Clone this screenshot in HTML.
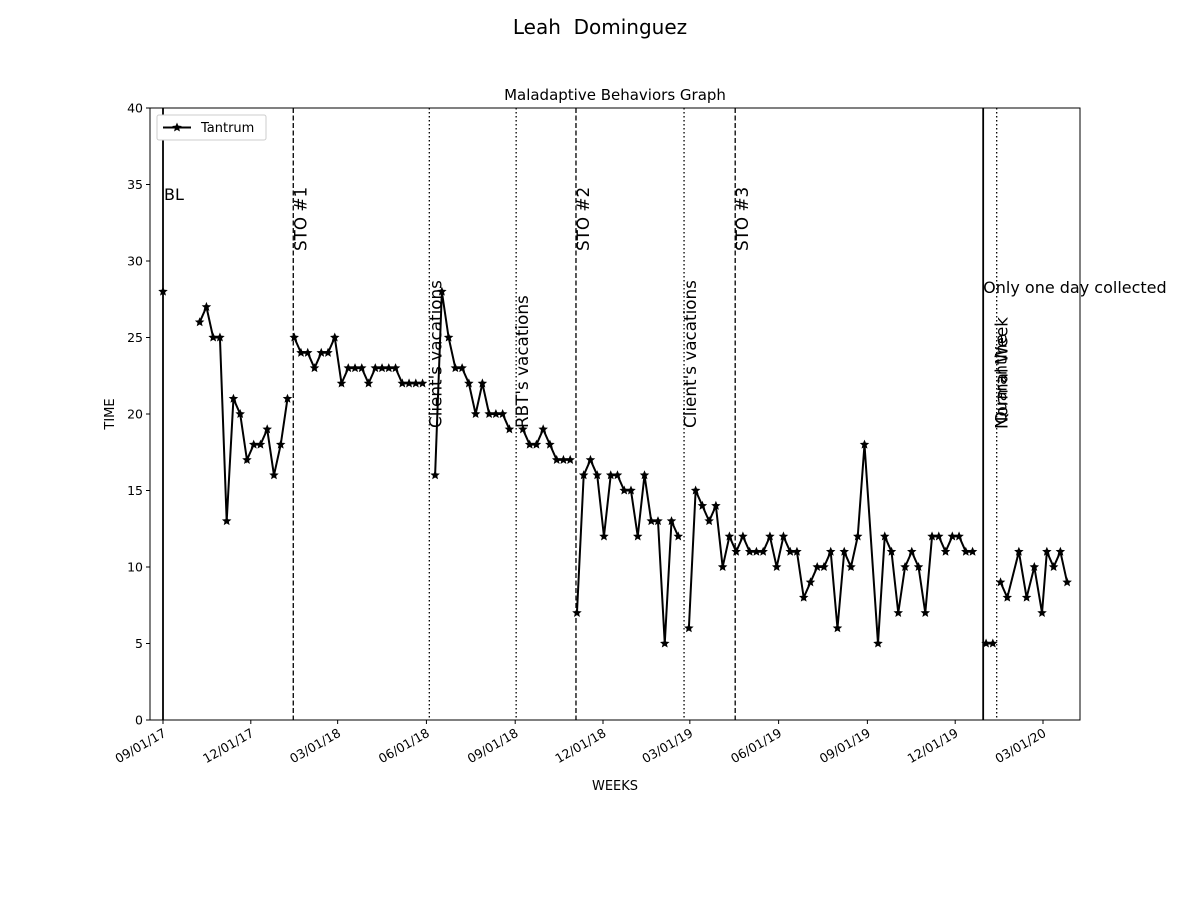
<!DOCTYPE html>
<html><head><meta charset="utf-8"><style>body{margin:0;background:#fff}svg{display:block;font-family:"DejaVu Sans","Liberation Sans",sans-serif}</style></head>
<body>
<svg id="chart" width="1200" height="900" viewBox="0 0 1200 900" xmlns="http://www.w3.org/2000/svg">
<text x="600" y="34" font-size="20" text-anchor="middle">Leah&#160; Dominguez</text>
<text x="615" y="100" font-size="15" text-anchor="middle">Maladaptive Behaviors Graph</text>
<text x="615" y="790" font-size="13" text-anchor="middle">WEEKS</text>
<text x="114" y="414" font-size="13" text-anchor="middle" transform="rotate(-90 114 414)">TIME</text>
<g id="plot"></g>
</svg>
<script>
const days = [0,null,38,45,52,59,66,73,80,87,94,101,108,115,122,129,null,
136,143,150,157,164,171,178,185,192,199,206,213,220,227,234,241,248,255,262,269,null,
282,289,296,303,310,317,324,331,338,345,352,359,null,
373,380,387,394,401,408,415,422,null,
429,436,443,450,457,464,471,478,485,492,499,506,513,520,527,534,null,
545,552,559,566,573,580,587,594,601,608,615,622,629,636,643,650,657,664,671,678,685,692,699,706,713,720,727,741,748,755,762,769,776,783,790,797,804,811,818,825,832,839,null,
853,860,null,
868,875,887,895,903,911,916,923,930,937];
const values = [28,null,26,27,25,25,13,21,20,17,18,18,19,16,18,21,null,
25,24,24,23,24,24,25,22,23,23,23,22,23,23,23,23,22,22,22,22,null,
16,28,25,23,23,22,20,22,20,20,20,19,null,
19,18,18,19,18,17,17,17,null,
7,16,17,16,12,16,16,15,15,12,16,13,13,5,13,12,null,
6,15,14,13,14,10,12,11,12,11,11,11,12,10,12,11,11,8,9,10,10,11,6,11,10,12,18,5,12,11,7,10,11,10,7,12,12,11,12,12,11,11,null,
5,5,null,
9,8,11,8,10,7,11,10,11,9];
const xTickDays = [0,91,181,273,365,456,546,638,730,821,912];
const xTickLabels = ["09/01/17","12/01/17","03/01/18","06/01/18","09/01/18","12/01/18","03/01/19","06/01/19","09/01/19","12/01/19","03/01/20"];
const yTicks = [0,5,10,15,20,25,30,35,40];
const phaseDays = [0,135,276,366,428,540,593,850,864];
const phaseStyles = ["solid","dashed","dotted","dotted","dashed","dotted","dashed","solid","dotted"];
const phaseLabels = ["BL","STO #1","Client's vacations","RBT's vacations","STO #2","Client's vacations","STO #3","Only one day collected","Normal Week"];

const L=150,R=1080,T=108,B=720;
const X=d=>163+d*(1043-163)/912;
const Y=v=>B-(v/40)*(B-T);
const NS="http://www.w3.org/2000/svg";
const g=document.getElementById('plot');
function mk(tag,attrs,parent){const e=document.createElementNS(NS,tag);for(const k in attrs)e.setAttribute(k,attrs[k]);(parent||g).appendChild(e);return e;}

phaseDays.forEach((d,i)=>{
  const st=phaseStyles[i];
  const ln=mk('line',{x1:X(d),x2:X(d),y1:T,y2:B,stroke:'#000','stroke-width':st==='solid'?1.8:1.3,'stroke-dasharray':st==='dashed'?'5,2.5':st==='dotted'?'1.5,2.5':'none'});
  
  
});
function txt(s,x,y,opt){const t=mk('text',Object.assign({x:x,y:y,'font-size':16},opt||{}));t.textContent=s;return t;}
let t;
t=txt(phaseLabels[0],X(0)+1,200);
[1,4,6].forEach(i=>{const x=X(phaseDays[i])+13,y=251;t=txt(phaseLabels[i],x,y,{transform:`rotate(-90 ${x} ${y})`,'font-size':16.8});});
[2,3,5].forEach(i=>{const x=X(phaseDays[i])+12,y=428;t=txt(phaseLabels[i],x,y,{transform:`rotate(-90 ${x} ${y})`,'font-size':16.8});});
{const x=X(phaseDays[8])+11,y=429;t=txt(phaseLabels[8],x,y,{transform:`rotate(-90 ${x} ${y})`,'font-size':16.8});
t=txt('Quarantine',x-1,y-5,{transform:`rotate(-90 ${x-1} ${y-5})`,'font-size':16});}
t=txt(phaseLabels[7],X(phaseDays[7]),293,{'font-size':16});

let segs=[],cur=[];
days.forEach((d,i)=>{if(d===null||values[i]===null){if(cur.length)segs.push(cur);cur=[];}else cur.push([X(d),Y(values[i])]);});
if(cur.length)segs.push(cur);
segs.forEach(s=>{const p=mk('polyline',{points:s.map(q=>q.join(',')).join(' '),fill:'none',stroke:'#000','stroke-width':2});});
function star(cx,cy,r,parent){let pts=[];for(let k=0;k<10;k++){const a=-Math.PI/2+k*Math.PI/5;const rr=k%2?r*0.45:r;pts.push((cx+rr*Math.cos(a)).toFixed(2)+','+(cy+rr*Math.sin(a)).toFixed(2));}return mk('polygon',{points:pts.join(' '),fill:'#000'},parent);}
days.forEach((d,i)=>{if(d===null||values[i]===null)return;const s=star(X(d),Y(values[i]),5);});

const fr=mk('rect',{x:L,y:T,width:R-L,height:B-T,fill:'none',stroke:'#000','stroke-width':1});

yTicks.forEach(v=>{const l=mk('line',{x1:L-4,x2:L,y1:Y(v),y2:Y(v),stroke:'#000'});
const tt=txt(String(v),L-7,Y(v)+4.5,{'font-size':12.5,'text-anchor':'end'});});
xTickDays.forEach((d,i)=>{const x=X(d);const l=mk('line',{x1:x,x2:x,y1:B,y2:B+4,stroke:'#000'});
const y=B+12;const tt=txt(xTickLabels[i],x+2,y+4,{'font-size':12.5,'text-anchor':'end',transform:`rotate(-30 ${x+2} ${y})`});});

const lg=mk('g',{});
mk('rect',{x:157,y:115,width:109,height:25,rx:2,fill:'#fff',stroke:'#ccc'},lg);
mk('line',{x1:163,x2:191,y1:127.5,y2:127.5,stroke:'#000','stroke-width':2},lg);
star(177,127.5,5,lg);
const lt=mk('text',{x:201,y:132,'font-size':13},lg);lt.textContent='Tantrum';

</script>
</body></html>
